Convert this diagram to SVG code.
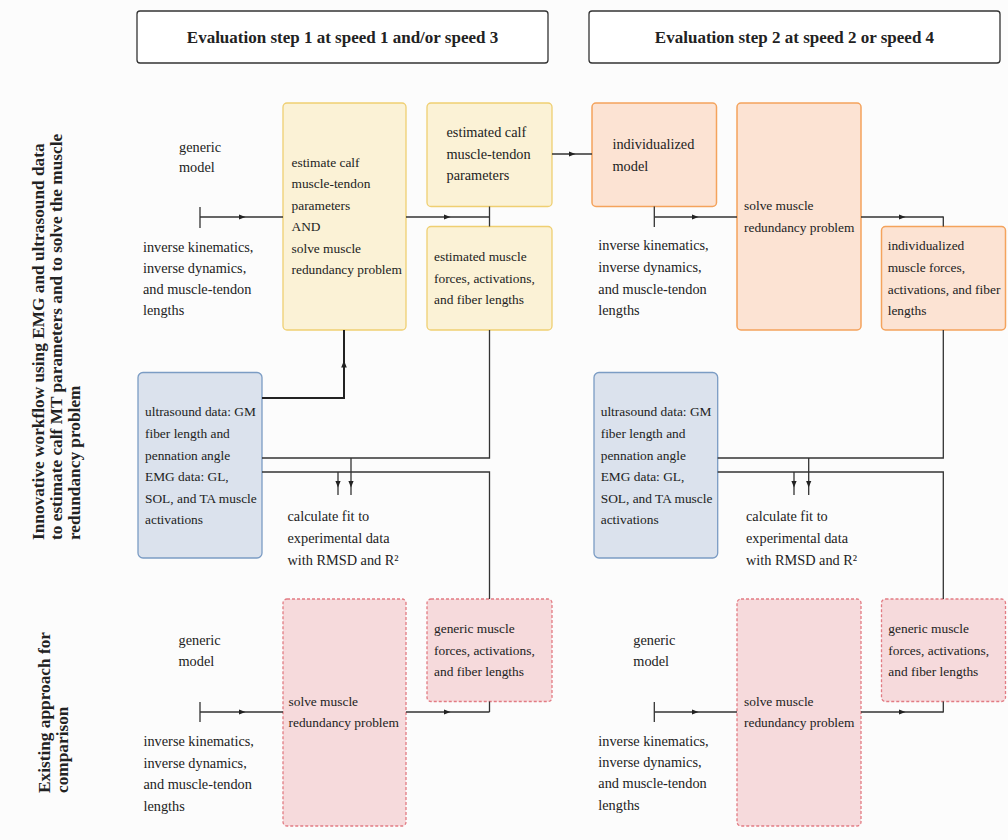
<svg xmlns="http://www.w3.org/2000/svg" width="1008" height="840" viewBox="0 0 1008 840">
<defs>
<marker id="ah" viewBox="0 0 10 10" refX="5" refY="5" markerWidth="7" markerHeight="7" orient="auto" markerUnits="userSpaceOnUse"><path d="M0,1 L10,5 L0,9 z" fill="#222"/></marker>
</defs>
<style>
text{font-family:"Liberation Serif","Times New Roman",serif;font-size:13.4px;fill:#222}
.fr{font-size:14.3px}
.hd{font-size:17px;font-weight:bold;text-anchor:middle}
.lab{font-size:17.3px;font-weight:bold}
.hbox{fill:#ffffff;stroke:#333;stroke-width:1.3}
.yel{fill:#fbf2d6;stroke:#efcf72;stroke-width:1.3}
.ora{fill:#fce3d3;stroke:#f4a35c;stroke-width:1.5}
.blu{fill:#dbe2ed;stroke:#7b9cc4;stroke-width:1.3}
.pnk{fill:#f6dadc;stroke:#e27b83;stroke-width:1.3;stroke-dasharray:3 2}
.ln{fill:none;stroke:#333;stroke-width:1.3}
.lt{fill:none;stroke:#222;stroke-width:2}
.ar{marker-mid:url(#ah)}
</style>
<rect width="1008" height="840" fill="#fcfcfc"/>

<g id="header1"><rect class="hbox" x="137" y="11" width="411" height="52" rx="3"/><text class="hd" x="342.5" y="43">Evaluation step 1 at speed 1 and/or speed 3</text></g>
<g id="header2"><rect class="hbox" x="589" y="11" width="411" height="52" rx="3"/><text class="hd" x="794.5" y="43">Evaluation step 2 at speed 2 or speed 4</text></g>

<g id="label-innovative">
<text class="lab" transform="translate(43.5,540) rotate(-90)">Innovative workflow using EMG and ultrasound data</text>
<text class="lab" transform="translate(61.5,540) rotate(-90)">to estimate calf MT parameters and to solve the muscle</text>
<text class="lab" transform="translate(79.5,540) rotate(-90)">redundancy problem</text>
</g>
<g id="label-existing">
<text class="lab" transform="translate(50,793) rotate(-90)">Existing approach for</text>
<text class="lab" transform="translate(68,793) rotate(-90)">comparison</text>
</g>

<!-- step 1 top -->
<g id="s1-generic"><text class="fr" x="179" y="151.5">generic</text><text class="fr" x="179" y="171.5">model</text></g>
<g id="s1-inputs"><text class="fr" x="143" y="252">inverse kinematics,</text><text class="fr" x="143" y="273">inverse dynamics,</text><text class="fr" x="143" y="294">and muscle-tendon</text><text class="fr" x="143" y="315">lengths</text></g>
<g id="s1-estimate"><rect class="yel" x="283" y="103" width="123" height="227" rx="4"/>
<text x="291.5" y="166.5">estimate calf</text><text x="291.5" y="188">muscle-tendon</text><text x="291.5" y="209.5">parameters</text><text x="291.5" y="231">AND</text><text x="291.5" y="252.5">solve muscle</text><text x="291.5" y="274">redundancy problem</text></g>
<g id="s1-calfparams"><rect class="yel" x="427" y="103" width="125" height="103.5" rx="4"/>
<text class="fr" x="446.5" y="137">estimated calf</text><text class="fr" x="446.5" y="158.5">muscle-tendon</text><text class="fr" x="446.5" y="180">parameters</text></g>
<g id="s1-forces"><rect class="yel" x="427" y="226.5" width="125" height="103.5" rx="4"/>
<text x="434" y="261">estimated muscle</text><text x="434" y="282.5">forces, activations,</text><text x="434" y="304">and fiber lengths</text></g>
<g id="s1-data"><rect class="blu" x="138" y="372.5" width="124" height="185.5" rx="5"/>
<text x="145" y="416">ultrasound data: GM</text><text x="145" y="438">fiber length and</text><text x="145" y="459.5">pennation angle</text><text x="145" y="481">EMG data: GL,</text><text x="145" y="502.5">SOL, and TA muscle</text><text x="145" y="524">activations</text></g>
<g id="s1-fit"><text class="fr" x="287.5" y="521">calculate fit to</text><text class="fr" x="287.5" y="543">experimental data</text><text class="fr" x="287.5" y="564.5">with RMSD and R²</text></g>

<!-- step 1 bottom -->
<g id="s1b-generic"><text class="fr" x="178.5" y="645">generic</text><text class="fr" x="178.5" y="666">model</text></g>
<g id="s1b-inputs"><text class="fr" x="143.5" y="746">inverse kinematics,</text><text class="fr" x="143.5" y="767.5">inverse dynamics,</text><text class="fr" x="143.5" y="789">and muscle-tendon</text><text class="fr" x="143.5" y="810.5">lengths</text></g>
<g id="s1b-solve"><rect class="pnk" x="283" y="599" width="123" height="227" rx="4"/>
<text x="288.5" y="705.5">solve muscle</text><text x="288.5" y="727">redundancy problem</text></g>
<g id="s1b-forces"><rect class="pnk" x="427" y="599" width="125" height="102.5" rx="4"/>
<text x="434" y="632.5">generic muscle</text><text x="434" y="654.5">forces, activations,</text><text x="434" y="676">and fiber lengths</text></g>

<!-- step 2 top -->
<g id="s2-model"><rect class="ora" x="592" y="103" width="124.5" height="103.5" rx="4"/>
<text class="fr" x="612.5" y="149">individualized</text><text class="fr" x="612.5" y="171">model</text></g>
<g id="s2-inputs"><text class="fr" x="598.3" y="250">inverse kinematics,</text><text class="fr" x="598.3" y="272">inverse dynamics,</text><text class="fr" x="598.3" y="293.5">and muscle-tendon</text><text class="fr" x="598.3" y="315">lengths</text></g>
<g id="s2-solve"><rect class="ora" x="737" y="103" width="124" height="227" rx="4"/>
<text x="744" y="210">solve muscle</text><text x="744" y="231.5">redundancy problem</text></g>
<g id="s2-forces"><rect class="ora" x="881.5" y="226.5" width="124" height="103.5" rx="4"/>
<text x="887.7" y="250">individualized</text><text x="887.7" y="272">muscle forces,</text><text x="887.7" y="293.5">activations, and fiber</text><text x="887.7" y="315">lengths</text></g>
<g id="s2-data"><rect class="blu" x="594" y="372.5" width="123.7" height="185.5" rx="5"/>
<text x="600.7" y="416">ultrasound data: GM</text><text x="600.7" y="438">fiber length and</text><text x="600.7" y="459.5">pennation angle</text><text x="600.7" y="481">EMG data: GL,</text><text x="600.7" y="502.5">SOL, and TA muscle</text><text x="600.7" y="524">activations</text></g>
<g id="s2-fit"><text class="fr" x="746" y="521">calculate fit to</text><text class="fr" x="746" y="543">experimental data</text><text class="fr" x="746" y="564.5">with RMSD and R²</text></g>

<!-- step 2 bottom -->
<g id="s2b-generic"><text class="fr" x="633.3" y="644.5">generic</text><text class="fr" x="633.3" y="665.5">model</text></g>
<g id="s2b-inputs"><text class="fr" x="598.3" y="745.5">inverse kinematics,</text><text class="fr" x="598.3" y="767">inverse dynamics,</text><text class="fr" x="598.3" y="788">and muscle-tendon</text><text class="fr" x="598.3" y="809.5">lengths</text></g>
<g id="s2b-solve"><rect class="pnk" x="737" y="599" width="124" height="227" rx="4"/>
<text x="744" y="705.5">solve muscle</text><text x="744" y="727">redundancy problem</text></g>
<g id="s2b-forces"><rect class="pnk" x="881.5" y="599" width="124" height="102.5" rx="4"/>
<text x="888.3" y="633">generic muscle</text><text x="888.3" y="654.5">forces, activations,</text><text x="888.3" y="675.5">and fiber lengths</text></g>

<g id="connectors">
<!-- step 1 top -->
<path class="ln" d="M200,207 V228"/>
<path class="ln ar" d="M200,217 L242,217 L283,217"/>
<path class="ln ar" d="M406,217 L447,217 L489,217"/>
<path class="ln" d="M489.5,206.5 V226.5"/>
<path class="ln ar" d="M552,154 L572,154 L592,154"/>
<path class="lt" d="M262,398 H344 V366"/>
<path class="lt ar" d="M344,370 L344,364 L344,330"/>
<path class="ln" d="M489.5,330 V458 H262"/>
<path class="ln" d="M262,472 H489.5 V599"/>
<path class="ln ar" d="M351,458 L351,484 L351,495"/>
<path class="ln ar" d="M338,472 L338,484 L338,495"/>
<!-- step 1 bottom -->
<path class="ln" d="M200,702 V722"/>
<path class="ln ar" d="M200,712 L242,712 L283,712"/>
<path class="ln ar" d="M406,712 L447,712 L489.5,712"/>
<path class="ln" d="M489.5,712 V701.5"/>
<!-- step 2 top -->
<path class="ln" d="M654.3,206.5 V227"/>
<path class="ln ar" d="M654.3,217 L695,217 L737,217"/>
<path class="ln ar" d="M861,217 L902,217 L943.3,217"/>
<path class="ln" d="M943.3,216.4 V226.5"/>
<path class="ln" d="M943.3,330 V458 H717.7"/>
<path class="ln" d="M717.7,472 H943.3 V599"/>
<path class="ln ar" d="M808.7,458 L808.7,484 L808.7,495"/>
<path class="ln ar" d="M794,472 L794,484 L794,495"/>
<!-- step 2 bottom -->
<path class="ln" d="M654.3,702 V722"/>
<path class="ln ar" d="M654.3,712 L695,712 L737,712"/>
<path class="ln ar" d="M861,712 L902,712 L943.3,712"/>
<path class="ln" d="M943.3,712.6 V701.5"/>
</g>
</svg>
